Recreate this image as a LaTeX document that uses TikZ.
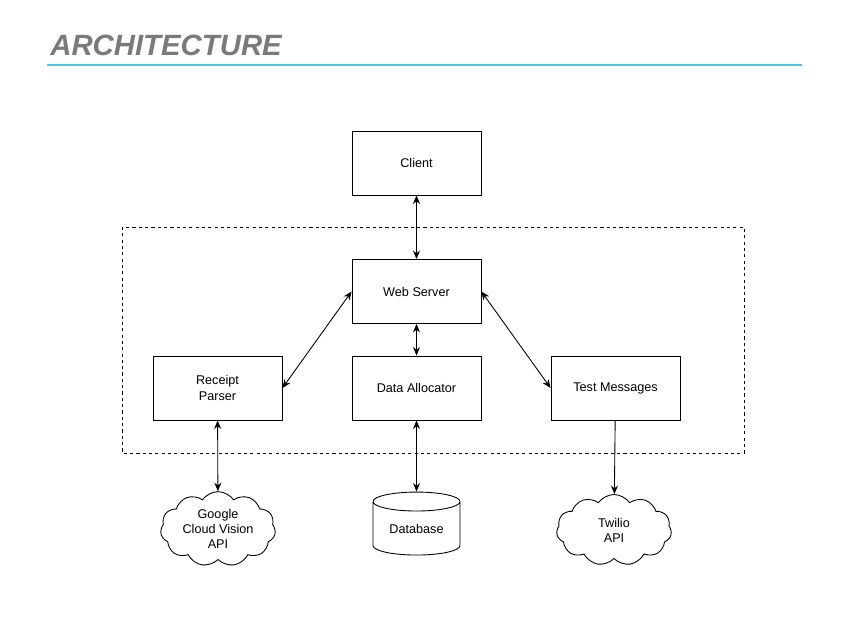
\documentclass[tikz,border=0pt]{standalone}
\usepackage{fontspec}
\setmainfont{Liberation Sans}
\usepackage{xcolor}
\usetikzlibrary{arrows.meta,positioning,shapes.geometric,shapes.symbols}
\definecolor{titlegray}{HTML}{7A7A7A}
\definecolor{rulecyan}{HTML}{4FC6DE}
\begin{document}
\begin{tikzpicture}[
  x=0.02cm, y=-0.02cm,
  font=\fontsize{7.2}{8.6}\selectfont,
  comp/.style={draw, line width=0.5pt, minimum width=2.58cm, minimum height=1.28cm, align=center, inner sep=0pt},
  ext/.style={draw, line width=0.5pt, cloud, cloud puffs=11, cloud puff arc=110, aspect=1.6, minimum width=2.3cm, minimum height=1.42cm, align=center, inner sep=0pt},
  store/.style={draw, line width=0.5pt, cylinder, shape border rotate=90, aspect=0.35, minimum width=1.74cm, minimum height=1.26cm, inner sep=0pt},
  link/.style={line width=0.5pt, {Stealth[length=1.7mm,width=1.4mm]}-{Stealth[length=1.7mm,width=1.4mm]}},
  onelink/.style={line width=0.5pt, -{Stealth[length=1.7mm,width=1.4mm]}},
]
\useasboundingbox (0,0) rectangle (854,636);
% heading
\node[anchor=west, inner sep=0pt, text=titlegray, font=\fontsize{16.7}{20}\selectfont\bfseries\itshape] (title) at (50,45) {ARCHITECTURE};
\draw[rulecyan, line width=1.2pt] (47,65) -- (802,65);
% server boundary
\draw[line width=0.45pt, dash pattern=on 1.8pt off 1.8pt] (122,227) rectangle (744,453);
% components
\node[comp] (client) at (416.5,163) {Client};
\node[comp] (web) at (416.5,291.5) {Web Server};
\node[comp] (parser) at (217.5,388) {Receipt\\Parser};
\node[comp] (alloc) at (416.5,388) {Data Allocator};
\node[comp] (msgs) at (615.5,388) {Test Messages};
% external services
\node[ext] (vision) at (218,529) {Google\\Cloud Vision\\API};
\node[store] (db) at (416.5,528.5) {Database};
\node[ext] (twilio) at (614,530) {Twilio\\API};
% connectors
\draw[link] (client) -- (web);
\draw[link] (web) -- (alloc);
\draw[link] (web.west) -- (parser.east);
\draw[link] (web.east) -- (msgs.west);
\draw[link] (parser) -- (vision);
\draw[link] (alloc) -- (db);
\draw[onelink] (msgs) -- (twilio);
\end{tikzpicture}
\end{document}
